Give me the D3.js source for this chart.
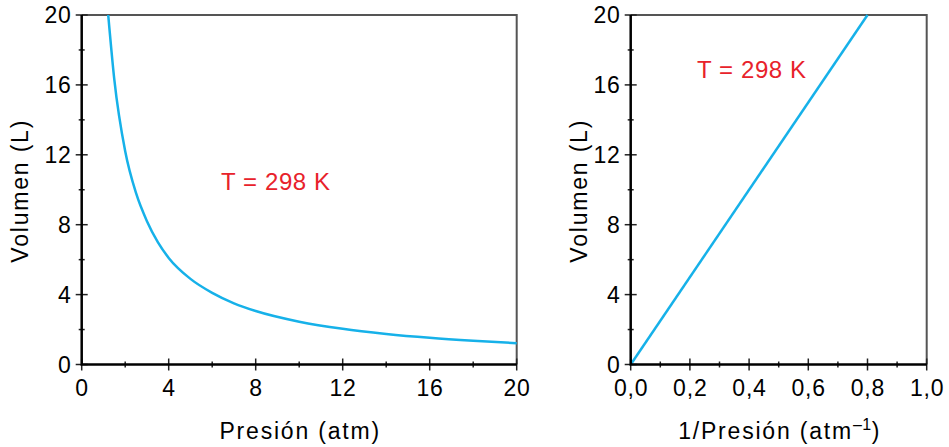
<!DOCTYPE html>
<html>
<head>
<meta charset="utf-8">
<script src="https://cdn.jsdelivr.net/npm/d3@7"></script>
<style>
  body { margin: 0; background: #fff; }
  text { font-family: "Liberation Sans", Arial, sans-serif; }
</style>
</head>
<body>
<svg id="chart" width="949" height="447"></svg>
<script>
// values
const pressure = [1.22, 1.5, 2, 2.5, 3, 3.5, 4, 5, 6, 7, 8, 10, 12, 14, 16, 18, 20];
const volume = [20, 16.3, 12.2, 9.8, 8.2, 7.0, 6.1, 4.9, 4.1, 3.5, 3.06, 2.45, 2.04, 1.75, 1.53, 1.36, 1.22];
const invPressure = [0, 0.8];
const volumeLin = [0, 20];

const leftXTicks = [0, 4, 8, 12, 16, 20];
const leftXMinor = [2, 6, 10, 14, 18];
const yTicks = [0, 4, 8, 12, 16, 20];
const yMinor = [2, 6, 10, 14, 18];
const rightXTicks = [0, 0.2, 0.4, 0.6, 0.8, 1.0];
const rightXMinor = [0.1, 0.3, 0.5, 0.7, 0.9];

const tempLabel = 'T = 298 K';
const curveColor = '#16b1e9';
const redColor = '#e8222b';

const svg = d3.select('#chart');
const fmtComma = d => d3.format('.1f')(d).replace('.', ',');

function drawPanel(opts) {
    const x = d3.scaleLinear().domain(opts.xDomain).range([opts.left, opts.right]);
    const y = d3.scaleLinear().domain([0, 20]).range([364.5, 15]);
    const g = svg.append('g');

    // frame top/right in gray
    g.append('path')
        .attr('d', `M${opts.left},${y(20)}H${opts.right}V${y(0)}`)
        .attr('fill', 'none')
        .attr('stroke', '#555')
        .attr('stroke-width', 2);

    // y ticks
    g.selectAll('.ymaj').data(yTicks).join('line')
        .attr('x1', opts.left - 6).attr('x2', opts.left + 6)
        .attr('y1', d => y(d)).attr('y2', d => y(d))
        .attr('stroke', '#222').attr('stroke-width', 1.5);
    g.selectAll('.ymin').data(yMinor).join('line')
        .attr('x1', opts.left - 3).attr('x2', opts.left + 3)
        .attr('y1', d => y(d)).attr('y2', d => y(d))
        .attr('stroke', '#222').attr('stroke-width', 1.5);
    g.selectAll('.ylab').data(yTicks).join('text')
        .attr('x', opts.left - 10).attr('y', d => y(d))
        .attr('dy', '0.35em')
        .attr('text-anchor', 'end')
        .attr('font-size', 23)
        .attr('letter-spacing', 0.8)
        .text(d => d);

    // x ticks
    g.selectAll('.xmaj').data(opts.xTicks).join('line')
        .attr('x1', d => x(d)).attr('x2', d => x(d))
        .attr('y1', y(0) - 6).attr('y2', y(0) + 6)
        .attr('stroke', '#222').attr('stroke-width', 1.5);
    g.selectAll('.xmin').data(opts.xMinor).join('line')
        .attr('x1', d => x(d)).attr('x2', d => x(d))
        .attr('y1', y(0) - 3).attr('y2', y(0) + 3)
        .attr('stroke', '#222').attr('stroke-width', 1.5);
    g.selectAll('.xlab').data(opts.xTicks).join('text')
        .attr('x', d => x(d) + 0.4).attr('y', 396)
        .attr('text-anchor', 'middle')
        .attr('font-size', 23)
        .attr('letter-spacing', 0.8)
        .text(opts.fmt);

    // curve
    const line = d3.line()
        .x(d => x(d[0]))
        .y(d => y(d[1]))
        .curve(d3.curveMonotoneX);
    g.append('path')
        .datum(d3.zip(opts.xs, opts.ys))
        .attr('d', line)
        .attr('fill', 'none')
        .attr('stroke', curveColor)
        .attr('stroke-width', 2.5);

    // main axes (black)
    g.append('path')
        .attr('d', `M${opts.left},${y(20)}V${y(0)}H${opts.right}`)
        .attr('fill', 'none')
        .attr('stroke', '#000')
        .attr('stroke-width', 2.5);

    // axis titles
    g.append('text')
        .attr('transform', `translate(${opts.ylabX},${(y(0) + y(20)) / 2 + 1}) rotate(-90)`)
        .attr('text-anchor', 'middle')
        .attr('font-size', 23)
        .attr('letter-spacing', 1.8)
        .text('Volumen (L)');

    const xt = g.append('text')
        .attr('x', (opts.left + opts.right) / 2 + 1)
        .attr('y', 439)
        .attr('text-anchor', 'middle')
        .attr('font-size', 23)
        .attr('letter-spacing', 1.8);
    xt.append('tspan').text(opts.xTitle);
    if (opts.xSup) {
        xt.append('tspan').attr('dy', -9).attr('font-size', 16).attr('letter-spacing', 0.5).text(opts.xSup);
        xt.append('tspan').attr('dy', 9).text(')');
    }

    g.append('text')
        .attr('x', opts.tx).attr('y', opts.ty)
        .attr('font-size', 24)
        .attr('letter-spacing', 0.6)
        .attr('fill', redColor)
        .text(tempLabel);
}

drawPanel({
    left: 81.7, right: 516.7, xDomain: [0, 20],
    xTicks: leftXTicks, xMinor: leftXMinor, fmt: d => d,
    xs: pressure, ys: volume,
    ylabX: 28, xTitle: 'Presión (atm)',
    tx: 221, ty: 190
});

drawPanel({
    left: 630.7, right: 926.7, xDomain: [0, 1],
    xTicks: rightXTicks, xMinor: rightXMinor, fmt: fmtComma,
    xs: invPressure, ys: volumeLin,
    ylabX: 587, xTitle: '1/Presión (atm', xSup: '\u20131',
    tx: 697, ty: 78
});
</script>
</body>
</html>
